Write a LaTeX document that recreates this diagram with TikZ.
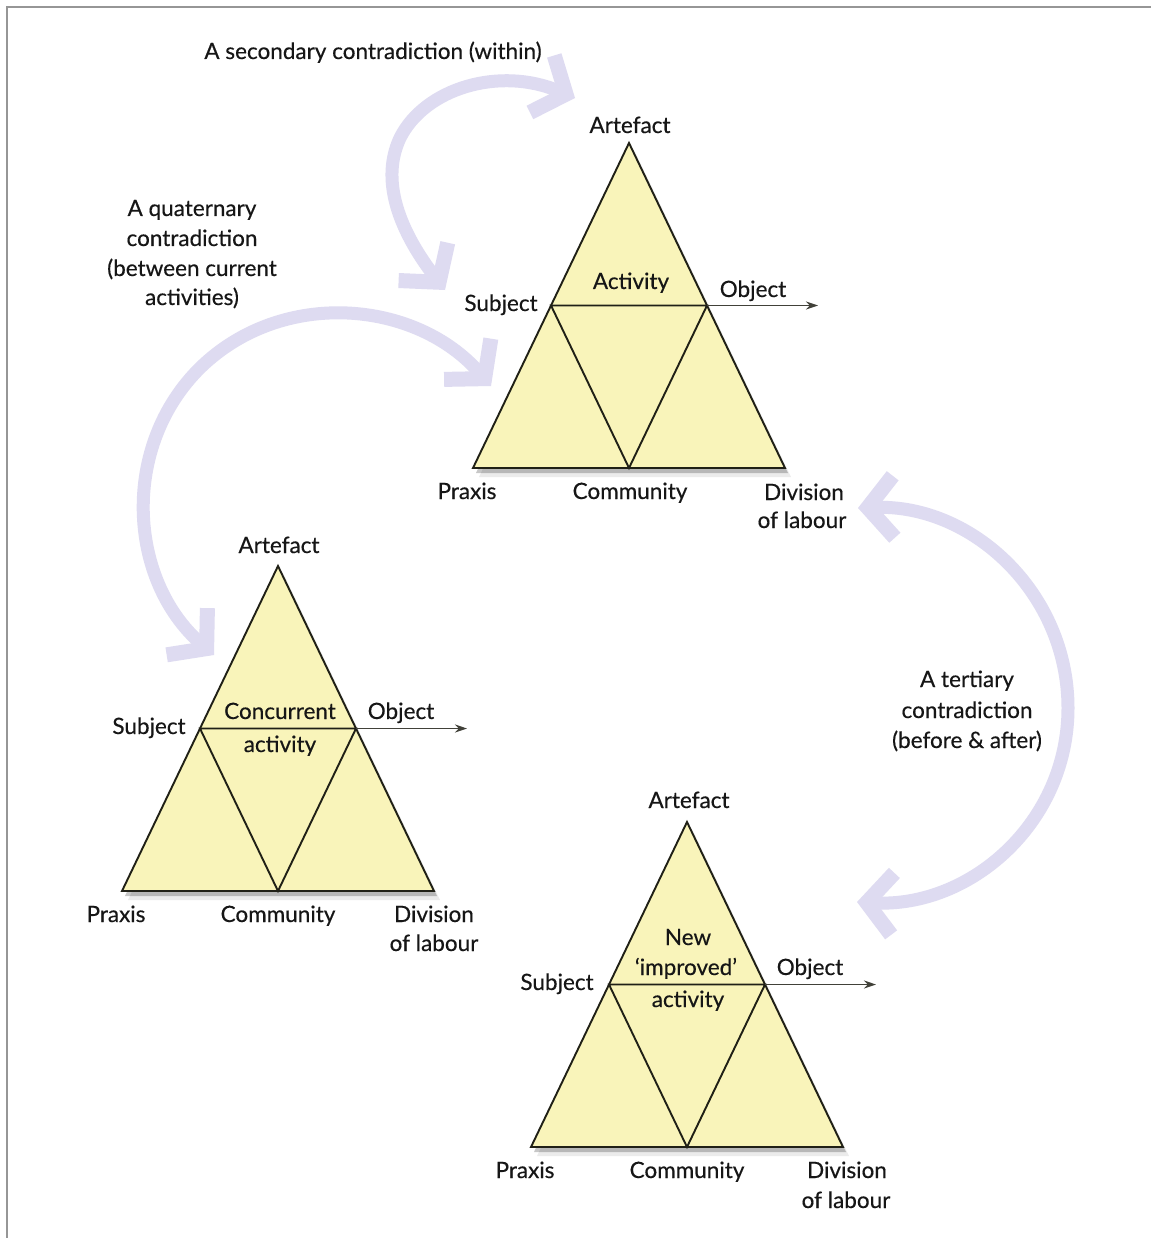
\documentclass[tikz,border=0pt]{standalone}
\usepackage{fontspec}
\setmainfont{Lato}
\newfontfamily\labelfont{Lato}[FakeBold=0.35,Ligatures=TeX]
\usetikzlibrary{arrows.meta}

\definecolor{trifill}{RGB}{249,244,186}
\definecolor{triline}{RGB}{32,32,22}
\definecolor{arcband}{RGB}{222,219,241}
\definecolor{framegray}{RGB}{150,150,150}
\definecolor{inkc}{RGB}{22,22,22}

% One activity-system triangle: #1 name prefix, (#2,#3) apex position
\newcommand{\activitytriangle}[3]{%
  \begin{scope}[shift={(#2,#3)}]
    \coordinate (#1-apex)  at (0,0);
    \coordinate (#1-left)  at (-156,325);
    \coordinate (#1-right) at (156,325);
    \coordinate (#1-base)  at (0,325);
    \coordinate (#1-subj)  at (-78,162.5);
    \coordinate (#1-obj)   at (78,162.5);
    \coordinate (#1-out)   at (189,162.5);
    \begin{scope}[shift={(6,9)}]
      \fill[black,opacity=.08] (0,0) -- (-156,325) -- (156,325) -- cycle;
    \end{scope}
    \begin{scope}[shift={(3,5)}]
      \fill[black,opacity=.22] (0,0) -- (-156,325) -- (156,325) -- cycle;
    \end{scope}
    \draw[tri] (#1-apex) -- (#1-left) -- (#1-right) -- cycle;
    \draw[triedge] (#1-subj) -- (#1-obj) -- (#1-base) -- cycle;
    \draw[objarrow] (#1-obj) -- (#1-out);
  \end{scope}}

\begin{document}
\begin{tikzpicture}[x=1pt,y=-1pt,
  lbl/.style={font=\labelfont\fontsize{22.5}{27}\selectfont, text=inkc, anchor=base, inner sep=0pt},
  tri/.style={fill=trifill, draw=triline, line width=1.9pt, line join=miter},
  triedge/.style={draw=triline, line width=1.9pt, line join=miter},
  objarrow/.style={draw=triline!85, line width=1.5pt, -{Stealth[length=12pt,width=8pt]}},
  contra/.style={draw=arcband, line width=13pt,
    >={Straight Barb[length=26pt,width=62pt,line width=15pt]}, <->}
]
% page and frame
\useasboundingbox (0,0) rectangle (1151,1238);
\fill[white] (0,0) rectangle (1151,1238);
\draw[framegray, line width=2pt] (6.5,1238) -- (6.5,7.5) -- (1151,7.5);

% contradiction arcs
\coordinate (sec-a) at (445,290);
\coordinate (sec-b) at (575,98);
\draw[contra] (sec-a) .. controls (405,238) and (378,185) .. (400,138)
              .. controls (425,88) and (500,66) .. (sec-b);

\coordinate (quat-a) at (214,655);
\coordinate (quat-b) at (491,386);
\draw[contra] (quat-a) .. controls (128,580) and (120,446) .. (201,367)
              .. controls (283,288) and (416,300) .. (quat-b);

\coordinate (ter-a) at (858,508);
\coordinate (ter-b) at (857,902);
\draw[contra] (ter-a) .. controls (972,504) and (1068,593) .. (1068,708)
              .. controls (1068,823) and (970,908) .. (ter-b);

% the three activity systems
\activitytriangle{act}{629}{143}
\activitytriangle{conc}{278}{566}
\activitytriangle{new}{687}{822}

% labels: current activity
\node[lbl] (act-artefact) at (630,133) {Artefact};
\node[lbl] (act-name)     at (631,289) {Activity};
\node[lbl] (act-subject)  at (501,311) {Subject};
\node[lbl] (act-object)   at (753,297) {Object};
\node[lbl] (act-praxis)   at (467,499) {Praxis};
\node[lbl] (act-comm)     at (630,499) {Community};
\node[lbl] (act-div)      at (804,500) {Division};
\node[lbl] (act-lab)      at (802,528) {of labour};

% labels: concurrent activity
\node[lbl] (conc-artefact) at (279,553) {Artefact};
\node[lbl] (conc-name1)    at (280,719) {Concurrent};
\node[lbl] (conc-name2)    at (280,752) {activity};
\node[lbl] (conc-subject)  at (149,734) {Subject};
\node[lbl] (conc-object)   at (401,719) {Object};
\node[lbl] (conc-praxis)   at (116,922) {Praxis};
\node[lbl] (conc-comm)     at (278,922) {Community};
\node[lbl] (conc-div)      at (434,922) {Division};
\node[lbl] (conc-lab)      at (434,951) {of labour};

% labels: new activity
\node[lbl] (new-artefact) at (689,808) {Artefact};
\node[lbl] (new-name1)    at (688,945) {New};
\node[lbl] (new-name2)    at (686,975) {‘improved’};
\node[lbl] (new-name3)    at (688,1007) {activity};
\node[lbl] (new-subject)  at (557,990) {Subject};
\node[lbl] (new-object)   at (810,975) {Object};
\node[lbl] (new-praxis)   at (525,1178) {Praxis};
\node[lbl] (new-comm)     at (687,1178) {Community};
\node[lbl] (new-div)      at (847,1178) {Division};
\node[lbl] (new-lab)      at (846,1208) {of labour};

% contradiction captions
\node[lbl] (sec-cap) at (373,59) {A secondary contradiction (within)};
\node[lbl] (quat-cap1) at (192,216) {A quaternary};
\node[lbl] (quat-cap2) at (192,246) {contradiction};
\node[lbl] (quat-cap3) at (192,276) {(between current};
\node[lbl] (quat-cap4) at (192,305) {activities)};
\node[lbl] (ter-cap1) at (967,687) {A tertiary};
\node[lbl] (ter-cap2) at (967,718) {contradiction};
\node[lbl] (ter-cap3) at (967,748) {(before \& after)};
\end{tikzpicture}
\end{document}
